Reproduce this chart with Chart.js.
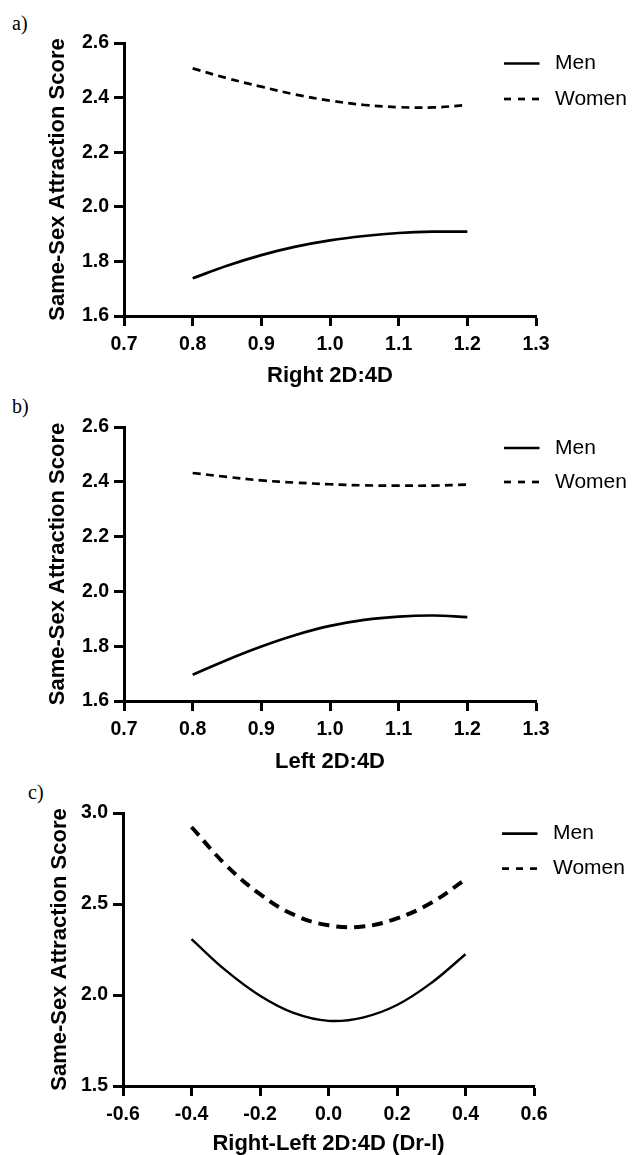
<!DOCTYPE html>
<html>
<head>
<meta charset="utf-8">
<script src="https://cdn.jsdelivr.net/npm/chart.js@4/dist/chart.umd.min.js"></script>
<style>
  html, body { margin: 0; padding: 0; background: #fff; overflow: hidden; }
  #page { position: relative; width: 632px; height: 1155px; background: #fff; }
  canvas { position: absolute; left: 0; }
  .plabel { position: absolute; font-family: "Liberation Serif", "Times New Roman", serif; font-size: 20px; line-height: 20px; color: #000; }
</style>
</head>
<body>
<div id="page">
  <div class="plabel" style="left:12px;top:13px;">a)</div>
  <div class="plabel" style="left:12px;top:396px;">b)</div>
  <div class="plabel" style="left:28px;top:782px;">c)</div>
  <canvas id="chartA" width="632" height="395" style="top:0px;"></canvas>
  <canvas id="chartB" width="632" height="390" style="top:395px;"></canvas>
  <canvas id="chartC" width="632" height="370" style="top:785px;"></canvas>
</div>
<script>
// ---------- data ----------
const seriesNames = ['Men', 'Women'];
const yTitle = 'Same-Sex Attraction Score';

// Panel a) Right 2D:4D
const xTitleA = 'Right 2D:4D';
const xA = [0.8, 0.85, 0.9, 0.95, 1.0, 1.05, 1.1, 1.15, 1.2];
const menA = [1.738, 1.784, 1.823, 1.854, 1.877, 1.893, 1.904, 1.909, 1.909];
const womenA = [2.507, 2.471, 2.440, 2.411, 2.389, 2.373, 2.365, 2.364, 2.373];
const xTicksA = [0.7, 0.8, 0.9, 1.0, 1.1, 1.2, 1.3];
const xTickLabelsA = ['0.7', '0.8', '0.9', '1.0', '1.1', '1.2', '1.3'];
const yTicksA = [1.6, 1.8, 2.0, 2.2, 2.4, 2.6];
const yTickLabelsA = ['1.6', '1.8', '2.0', '2.2', '2.4', '2.6'];

// Panel b) Left 2D:4D
const xTitleB = 'Left 2D:4D';
const xB = [0.8, 0.85, 0.9, 0.95, 1.0, 1.05, 1.1, 1.15, 1.2];
const menB = [1.696, 1.750, 1.799, 1.841, 1.874, 1.896, 1.908, 1.912, 1.906];
const womenB = [2.432, 2.418, 2.405, 2.397, 2.391, 2.387, 2.386, 2.386, 2.390];
const xTicksB = [0.7, 0.8, 0.9, 1.0, 1.1, 1.2, 1.3];
const xTickLabelsB = ['0.7', '0.8', '0.9', '1.0', '1.1', '1.2', '1.3'];
const yTicksB = [1.6, 1.8, 2.0, 2.2, 2.4, 2.6];
const yTickLabelsB = ['1.6', '1.8', '2.0', '2.2', '2.4', '2.6'];

// Panel c) Right-Left 2D:4D (Dr-l)
const xTitleC = 'Right-Left 2D:4D (Dr-l)';
const xC = [-0.4, -0.3, -0.2, -0.1, 0.0, 0.1, 0.2, 0.3, 0.4];
const menC = [2.307, 2.135, 1.996, 1.900, 1.858, 1.876, 1.945, 2.066, 2.224];
const womenC = [2.923, 2.715, 2.554, 2.440, 2.383, 2.376, 2.421, 2.507, 2.635];
const xTicksC = [-0.6, -0.4, -0.2, 0.0, 0.2, 0.4, 0.6];
const xTickLabelsC = ['-0.6', '-0.4', '-0.2', '0.0', '0.2', '0.4', '0.6'];
const yTicksC = [1.5, 2.0, 2.5, 3.0];
const yTickLabelsC = ['1.5', '2.0', '2.5', '3.0'];

// ---------- rendering ----------
const FONT = '"Liberation Sans", Arial, Helvetica, sans-serif';

const sideLegend = {
  id: 'sideLegend',
  afterDraw(chart, args, opts) {
    const { ctx, chartArea } = chart;
    ctx.save();
    chart.data.datasets.forEach((ds, i) => {
      const y = chartArea.top + opts.rows[i];
      ctx.beginPath();
      ctx.setLineDash(opts.dashes[i]);
      ctx.lineWidth = opts.lineWidth;
      ctx.strokeStyle = '#000';
      ctx.lineCap = 'butt';
      ctx.moveTo(chartArea.right + opts.lineStart, y);
      ctx.lineTo(chartArea.right + opts.lineEnd, y);
      ctx.stroke();
      ctx.setLineDash([]);
      ctx.fillStyle = '#000';
      ctx.font = opts.font;
      ctx.textAlign = 'left';
      ctx.textBaseline = 'middle';
      ctx.fillText(ds.label, chartArea.right + opts.textStart, y);
    });
    ctx.restore();
  }
};

function pts(xs, ys) { return xs.map((x, i) => ({ x: x, y: ys[i] })); }

function makeChart(id, cfg) {
  const ctx = document.getElementById(id);
  return new Chart(ctx, {
    type: 'line',
    data: {
      datasets: [
        {
          label: seriesNames[0],
          data: pts(cfg.xs, cfg.men),
          borderColor: '#000',
          borderWidth: cfg.menWidth,
          pointRadius: 0,
          fill: false,
          tension: 0.4
        },
        {
          label: seriesNames[1],
          data: pts(cfg.xs, cfg.women),
          borderColor: '#000',
          borderWidth: cfg.womenWidth,
          borderDash: cfg.womenDash,
          pointRadius: 0,
          fill: false,
          tension: 0.4
        }
      ]
    },
    options: {
      responsive: false,
      animation: false,
      devicePixelRatio: 1,
      layout: { padding: { top: cfg.top, right: cfg.right, left: 0, bottom: 0 } },
      plugins: {
        legend: { display: false },
        tooltip: { enabled: false },
        sideLegend: {
          rows: cfg.legendRows,
          dashes: [[], [7, 7]],
          lineWidth: 2.7,
          lineStart: -32,
          lineEnd: 3.5,
          textStart: 19,
          font: '21px ' + FONT
        }
      },
      scales: {
        x: {
          type: 'linear',
          min: cfg.xTicks[0],
          max: cfg.xTicks[cfg.xTicks.length - 1],
          afterBuildTicks: (s) => { s.ticks = cfg.xTicks.map(v => ({ value: v })); },
          afterFit: (s) => { s.height = cfg.xh; },
          ticks: {
            autoSkip: false,
            maxRotation: 0,
            minRotation: 0,
            padding: 7,
            color: '#000',
            font: { family: FONT, size: 19.5, weight: 'bold', lineHeight: 1.2 },
            callback: (v, i) => cfg.xTickLabels[i]
          },
          grid: {
            drawOnChartArea: false,
            drawTicks: true,
            tickLength: 10,
            tickWidth: 3,
            tickColor: '#000',
            color: '#000'
          },
          border: { display: true, color: '#000', width: 3 },
          title: {
            display: true,
            text: cfg.xTitle,
            color: '#000',
            font: { family: FONT, size: 22, weight: 'bold', lineHeight: 1 },
            padding: { top: 0, bottom: cfg.xTitlePad }
          }
        },
        y: {
          type: 'linear',
          min: cfg.yTicks[0],
          max: cfg.yTicks[cfg.yTicks.length - 1],
          afterBuildTicks: (s) => { s.ticks = cfg.yTicks.map(v => ({ value: v })); },
          afterFit: (s) => { s.width = cfg.left; },
          ticks: {
            autoSkip: false,
            padding: 5,
            color: '#000',
            font: { family: FONT, size: 19.5, weight: 'bold', lineHeight: 1.2 },
            callback: (v, i) => cfg.yTickLabels[i]
          },
          grid: {
            drawOnChartArea: false,
            drawTicks: true,
            tickLength: 10,
            tickWidth: 3,
            tickColor: '#000',
            color: '#000'
          },
          border: { display: true, color: '#000', width: 3 },
          title: {
            display: true,
            text: yTitle,
            color: '#000',
            font: { family: FONT, size: 22, weight: 'bold', lineHeight: 1 },
            padding: { top: cfg.yTitlePad, bottom: 0 }
          }
        }
      }
    },
    plugins: [sideLegend]
  });
}

makeChart('chartA', {
  xs: xA, men: menA, women: womenA,
  xTicks: xTicksA, xTickLabels: xTickLabelsA, yTicks: yTicksA, yTickLabels: yTickLabelsA,
  xTitle: xTitleA,
  top: 43, right: 96, left: 124, xh: 79, xTitlePad: 8, yTitlePad: 47,
  menWidth: 2.7, womenWidth: 2.7, womenDash: [8, 5.3],
  legendRows: [20.5, 56]
});

makeChart('chartB', {
  xs: xB, men: menB, women: womenB,
  xTicks: xTicksB, xTickLabels: xTickLabelsB, yTicks: yTicksB, yTickLabels: yTickLabelsB,
  xTitle: xTitleB,
  top: 32, right: 96, left: 124, xh: 84, xTitlePad: 12.5, yTitlePad: 47,
  menWidth: 2.7, womenWidth: 2.7, womenDash: [8, 5.3],
  legendRows: [21, 55]
});

makeChart('chartC', {
  xs: xC, men: menC, women: womenC,
  xTicks: xTicksC, xTickLabels: xTickLabelsC, yTicks: yTicksC, yTickLabels: yTickLabelsC,
  xTitle: xTitleC,
  top: 28, right: 98, left: 123, xh: 69, xTitlePad: 0, yTitlePad: 49,
  menWidth: 2.4, womenWidth: 4, womenDash: [11, 7],
  legendRows: [20.6, 55.6]
});
</script>
</body>
</html>
